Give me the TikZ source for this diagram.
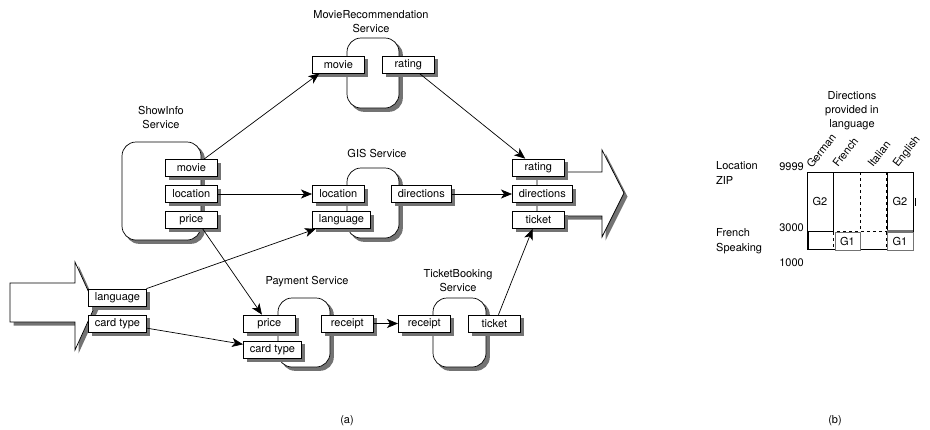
\documentclass[tikz,border=0pt]{standalone}
\usepackage{fontspec}
\setmainfont{TeX Gyre Heros}
\usetikzlibrary{arrows.meta,calc}
\pgfdeclarelayer{ashadow}
\pgfdeclarelayer{arrowlayer}
\pgfdeclarelayer{sshadow}
\pgfdeclarelayer{svclayer}
\pgfdeclarelayer{pshadow}
\pgfsetlayers{ashadow,arrowlayer,sshadow,svclayer,pshadow,main}
\newcommand\boxshadow[1]{%
  \begin{pgfonlayer}{pshadow}
  \fill[shadowc] ([shift={(3.5pt,-3.5pt)}]#1.south west) rectangle ([shift={(3.5pt,-3.5pt)}]#1.north east);
  \end{pgfonlayer}}
\newcommand\svcshadow[1]{%
  \begin{pgfonlayer}{sshadow}
  \fill[shadowc,rounded corners=14pt] ([shift={(3.5pt,-3.5pt)}]#1.south west) rectangle ([shift={(3.5pt,-3.5pt)}]#1.north east);
  \end{pgfonlayer}}
\begin{document}
\begin{tikzpicture}[x=1pt,y=-1pt,
  font=\fontsize{11}{14}\selectfont,
  shadowc/.style={fill=black!55},
  port/.style={draw,fill=white,line width=0.7pt,anchor=west,minimum width=52pt,minimum height=17pt,inner xsep=6.5pt,inner ysep=0pt},
  svc/.style={draw,fill=white,rounded corners=14pt,line width=0.7pt,inner sep=0pt},
  bigarrow/.style={draw,fill=white,line width=0.7pt},
  conn/.style={-{Stealth[length=11pt,width=9pt,inset=3pt]},line width=0.7pt},
  lbl/.style={align=center,inner sep=0pt},
  lbll/.style={align=left,inner sep=0pt,anchor=west,font=\fontsize{11}{15}\selectfont},
  num/.style={inner sep=0pt,anchor=east},
  col/.style={inner sep=0pt,anchor=base west,rotate=52},
  gcell/.style={inner sep=0pt},
]
\useasboundingbox (0,0) rectangle (930,429);

% ---------- (a) ----------
\begin{pgfonlayer}{ashadow}
\begin{scope}[shift={(3.5pt,-3.5pt)}]
\fill[shadowc] (10,283) -- (75,283) -- (75,262) -- (95,306) -- (75,350) -- (75,322) -- (10,322) -- cycle;
\fill[shadowc] (537,172) -- (602,172) -- (602,150) -- (624,193) -- (602,237) -- (602,216) -- (537,216) -- cycle;
\end{scope}
\end{pgfonlayer}
\begin{pgfonlayer}{arrowlayer}
\draw[bigarrow] (10,283) -- (75,283) -- (75,262) -- (95,306) -- (75,350) -- (75,322) -- (10,322) -- cycle;
\draw[bigarrow] (537,172) -- (602,172) -- (602,150) -- (624,193) -- (602,237) -- (602,216) -- (537,216) -- cycle;
\end{pgfonlayer}

\begin{pgfonlayer}{svclayer}
\node[svc,minimum width=79pt,minimum height=98pt] (showinfo) at (161.5,191) {};
\node[svc,minimum width=52pt,minimum height=70pt] (movierec) at (373,73) {};
\node[svc,minimum width=52pt,minimum height=70pt] (gis) at (373,203) {};
\node[svc,minimum width=52pt,minimum height=69pt] (payment) at (304,332.5) {};
\node[svc,minimum width=53pt,minimum height=69pt] (ticketbooking) at (459.5,332.5) {};
\end{pgfonlayer}
\svcshadow{showinfo}
\svcshadow{movierec}
\svcshadow{gis}
\svcshadow{payment}
\svcshadow{ticketbooking}

\node[lbl] (silbl) at (161,117) {ShowInfo\\Service};
\node[lbl] (mrlbl) at (371,21.5) {MovieRecommendation\\Service};
\node[lbl] (gislbl) at (377,153) {GIS Service};
\node[lbl] (paylbl) at (307,282) {Payment Service};
\node[lbl] (tblbl) at (458,281) {TicketBooking\\Service};

\node[port] (simovie) at (165,168) {movie};
\node[port] (siloc) at (165,194) {location};
\node[port] (siprice) at (165,220) {price};
\node[port] (mrmovie) at (312,64.5) {movie};
\node[port] (mrrating) at (382,64.5) {rating};
\node[port] (gisloc) at (312,194) {location};
\node[port] (gislang) at (312,220) {language};
\node[port] (gisdir) at (391,194) {directions};
\node[port] (cprating) at (512,167.5) {rating};
\node[port] (cpdir) at (512,194) {directions};
\node[port] (cpticket) at (512,220) {ticket};
\node[port] (inlang) at (88,297.5) {language};
\node[port] (incard) at (88,323.5) {card type};
\node[port] (payprice) at (243,323.5) {price};
\node[port] (paycard) at (243,349.5) {card type};
\node[port] (payrec) at (321,323.5) {receipt};
\node[port] (tbrec) at (398,323.5) {receipt};
\node[port] (tbticket) at (468,323.5) {ticket};

\foreach \n in {simovie,siloc,siprice,mrmovie,mrrating,gisloc,gislang,gisdir,cprating,cpdir,cpticket,inlang,incard,payprice,paycard,payrec,tbrec,tbticket}{\boxshadow{\n}}

\draw[conn] (simovie.35) -- (mrmovie.205);
\draw[conn] (mrrating.321) -- (cprating.146);
\draw[conn] (siloc.east) -- (gisloc.west);
\draw[conn] (gisdir.east) -- (cpdir.west);
\draw[conn] (inlang.17) -- (gislang.199);
\draw[conn] (incard.351) -- (paycard.170);
\draw[conn] (siprice.322) -- (payprice.130);
\draw[conn] (payrec.east) -- (tbrec.west);
\draw[conn] (tbticket.65) -- (cpticket.237);

\node[lbl] (capa) at (347,421) {(a)};

% ---------- (b) ----------
\node[lbl] (dirlbl) at (852,111) {Directions\\provided in\\language};
\node[lbll] (loczip) at (716,173) {Location\\ZIP};
\node[lbll] (french) at (716,241.5) {French\\Speaking};
\node[num] (n9999) at (804,167) {9999};
\node[num] (n3000) at (804,228) {3000};
\node[num] (n1000) at (804,263) {1000};
\node[col] (cgerman) at (812,169) {German};
\node[col] (cfrench) at (838,168) {French};
\node[col] (citalian) at (873,168) {Italian};
\node[col] (cenglish) at (898,168) {English};

\draw[line width=0.6pt,dashed] (833,172) -- (833,249);
\draw[line width=0.6pt,dashed] (860,172) -- (860,231);
\draw[line width=0.6pt,dashed] (886,172) -- (886,249);
\draw[line width=0.6pt,dashed] (807,231) -- (913,231);
\draw[line width=0.8pt] (807,172) rectangle (833,231);
\draw[line width=0.8pt] (887,172) rectangle (913,231);
\draw[line width=1pt] (807,172) -- (913,172);
\draw[line width=0.8pt] (807,249) -- (913,249);
\draw[line width=0.8pt] (807,231) -- (807,249);
\draw[line width=2.5pt] (808,232) -- (808,249);
\draw[line width=1pt] (915,198) -- (915,206);
\draw[line width=1pt,black!55,fill=white] (835,232) rectangle (860,250);
\draw[line width=1pt,black!55,fill=white] (887,232) rectangle (913,250);
\draw[line width=1.2pt,black!55] (887,231) -- (913,231);
\node[gcell] (g2a) at (820,201.5) {G2};
\node[gcell] (g2b) at (900,201.5) {G2};
\node[gcell] (g1a) at (847.5,241) {G1};
\node[gcell] (g1b) at (900,241) {G1};

\node[lbl] (capb) at (835,421) {(b)};
\end{tikzpicture}
\end{document}
